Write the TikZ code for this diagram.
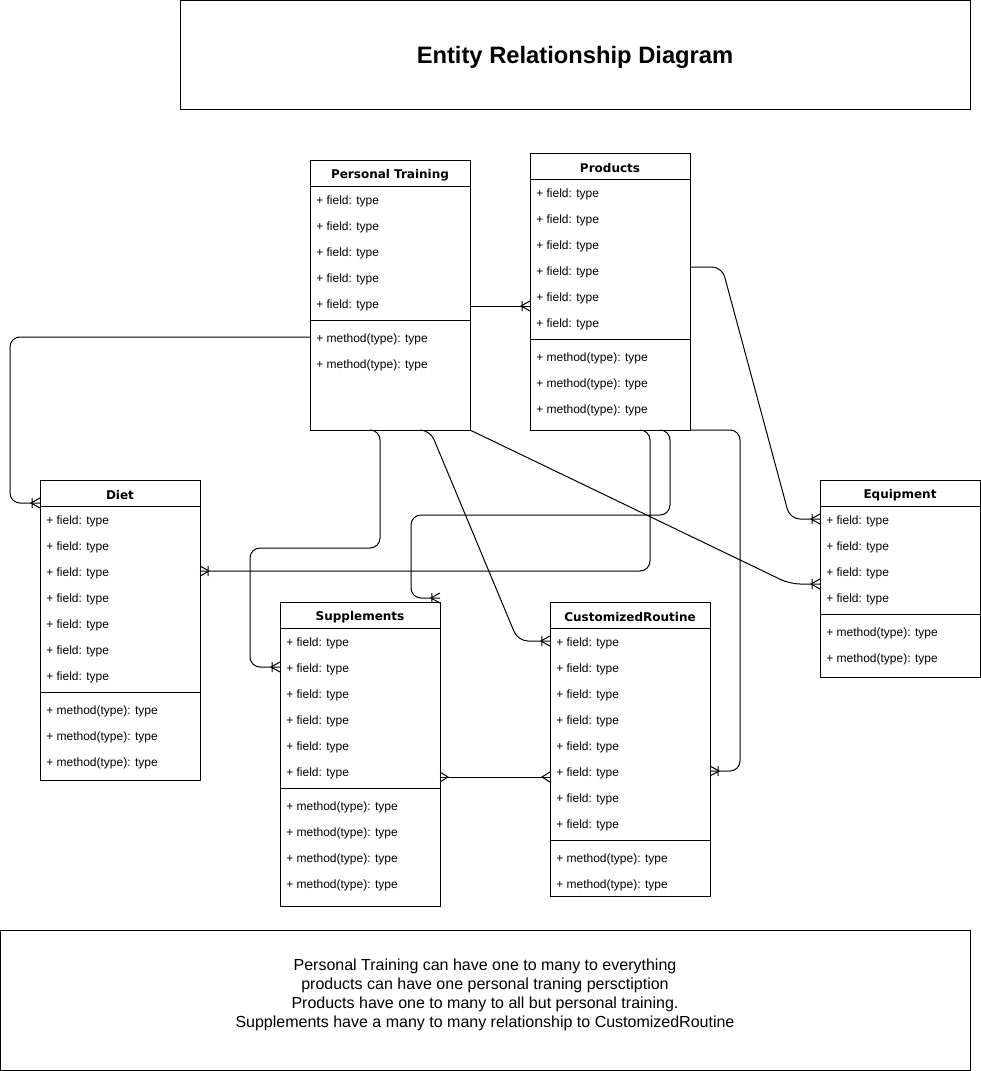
\documentclass[tikz,border=0pt]{standalone}
\usepackage{fontspec}
\setmainfont{Liberation Sans}
\newfontfamily\headfont{DejaVu Sans}
\usetikzlibrary{calc,decorations.markings}
\def\px{0.75pt} % one pixel of the drawing
\tikzset{
  entitybox/.style={draw, line width=\px, inner sep=0pt, outer sep=0pt,
    minimum width=160*\px, anchor=north west},
  entityline/.style={line width=\px},
  entityhead/.style={font=\headfont\bfseries\fontsize{9}{11}\selectfont, inner sep=0pt},
  entityrow/.style={anchor=west, font=\fontsize{9}{11}\selectfont,
    inner xsep=6*\px, inner ysep=0pt},
  notebox/.style={draw, line width=\px, inner sep=0pt, outer sep=0pt, anchor=north west},
  notetext/.style={align=center, font=\fontsize{12}{14.3}\selectfont},
  link/.style={line width=\px, rounded corners=10*\px},
  crowone/.style={postaction={decorate,decoration={markings,
    mark=at position 1 with {\draw[line width=\px,sharp corners]
      (0,5*\px) -- (-9*\px,0) -- (0,-5*\px) (-8*\px,5*\px) -- (-8*\px,-5*\px);}}}},
  crowmanyend/.style={postaction={decorate,decoration={markings,
    mark=at position 1 with {\draw[line width=\px,sharp corners]
      (0,5*\px) -- (-8*\px,0) -- (0,-5*\px);}}}},
  crowmanystart/.style={postaction={decorate,decoration={markings,
    mark=at position 0 with {\draw[line width=\px,sharp corners]
      (0,5*\px) -- (8*\px,0) -- (0,-5*\px);}}}},
}
\newcommand\DrawEntity[7]{% name, x, y, title, fields, methods, height
  \node[entitybox, minimum height=#7*\px] (#1) at (#2,#3) {};
  \node[entityhead] (#1-head) at (#2+80,#3+15) {#4};
  \draw[entityline] (#2,#3+26) -- (#2+160,#3+26);
  \foreach \i in {1,...,#5} { \node[entityrow] (#1-f\i) at (#2,#3+15+26*\i) {+ field: type}; }
  \draw[entityline] (#2,#3+30+26*#5) -- (#2+160,#3+30+26*#5);
  \foreach \j in {1,...,#6} { \node[entityrow] (#1-m\j) at (#2,#3+23+26*#5+26*\j) {+ method(type): type}; }
}
\begin{document}
\begin{tikzpicture}[x=\px,y=-\px] % pixel grid, y down
\useasboundingbox (0,0) rectangle (981,1071);

% title and note
\node[notebox, minimum width=790*\px, minimum height=109*\px] (title) at (180,0) {};
\node[font=\bfseries\fontsize{17.8}{20}\selectfont] (titletext) at ($(title.center)+(0,3)$)
  {Entity Relationship Diagram};
\node[notebox, minimum width=970*\px, minimum height=140*\px] (note) at (0,930) {};
\node[notetext] (notetext) at ($(note.center)+(0,-5)$) {Personal Training can have one to many to everything\\
  products can have one personal traning persctiption\\
  Products have one to many to all but personal training.\\
  Supplements have a many to many relationship to CustomizedRoutine};

% entities
\DrawEntity{training}{310}{160}{Personal Training}{5}{2}{270}
\DrawEntity{products}{530}{153}{Products}{6}{3}{277}
\DrawEntity{diet}{40}{480}{Diet}{7}{3}{300}
\DrawEntity{supps}{280}{602}{Supplements}{6}{4}{304}
\DrawEntity{routine}{550}{602}{CustomizedRoutine}{8}{2}{294}
\DrawEntity{equip}{820}{480}{Equipment}{4}{2}{197}

% relations
\draw[link,crowone] ($(training.east |- training-f5)+(0,1)$) -- ($(products.west |- training-f5)+(0,1)$);
\draw[link,crowone] ($(training.west |- training-m1)+(0,-2)$) -| ($(diet.north west)+(-30,23)$)
  -- ($(diet.north west)+(0,23)$);
\draw[link,crowone] ($(training.south west)+(62,0)$) -| ($(training.south west)+(70,118)$)
  -| ($(supps.west |- supps-f2)+(-30,-2)$) -- ($(supps.west |- supps-f2)+(0,-2)$);
\draw[link,crowone] ($(training.south west)+(110,0)$) -- ++(10,0)
  -- ($(routine.west |- routine-f1)+(-32,-2)$) -- ($(routine.west |- routine-f1)+(0,-2)$);
\draw[link,crowone] (training.south east) -- ($(equip.north west)+(-30,104)$)
  -- ($(equip.north west)+(0,104)$);
\draw[link,crowone] ($(products.north east)+(0,114)$) -- ++(32,0)
  -- ($(equip.west |- equip-f1)+(-30,-2)$) -- ($(equip.west |- equip-f1)+(0,-2)$);
\draw[link,crowone] ($(products.south west)+(110,0)$) -| ($(diet.east |- diet-f3)+(450,-2)$)
  -- ($(diet.east |- diet-f3)+(0,-2)$);
\draw[link,crowone] ($(products.south west)+(130,0)$) -| ($(products.south west)+(140,85)$)
  -| ($(supps.north east)+(-29,-4)$) -- ($(supps.north east)+(0,-4)$);
\draw[link,crowone] (products.south east) -| ($(routine.east |- routine-f6)+(30,-2)$)
  -- ($(routine.east |- routine-f6)+(0,-2)$);
\draw[link,crowmanystart,crowmanyend] ($(supps.east |- supps-f6)+(0,4)$)
  -- ($(routine.west |- supps-f6)+(0,4)$);
\end{tikzpicture}
\end{document}
